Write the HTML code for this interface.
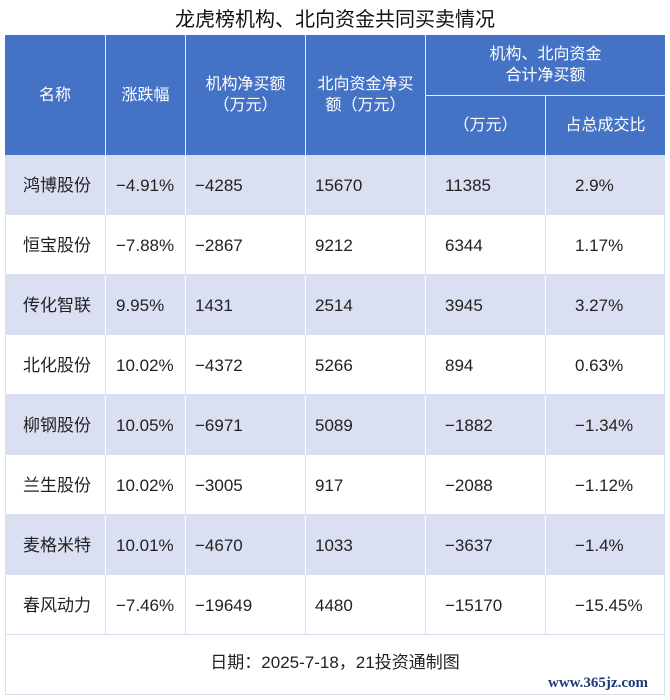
<!DOCTYPE html>
<html><head><meta charset="utf-8"><style>
body{margin:0;width:670px;height:700px;background:#fff;font-family:"Liberation Sans","Noto Sans CJK SC",sans-serif;position:relative;overflow:hidden;color:#222}
.a{position:absolute;box-sizing:border-box}
.t{position:absolute;font-size:17px;white-space:nowrap;line-height:20px}
.h{color:#fff;font-size:16px;text-align:center;line-height:21px;display:flex;align-items:center;justify-content:center}
</style></head><body>
<div class="a" style="left:0;top:6px;width:670px;text-align:center;font-size:20px;line-height:28px;color:#111">龙虎榜机构、北向资金共同买卖情况</div>
<div class="a" style="left:5px;top:35px;width:660px;height:120px;background:#4472c4"></div>
<div id="hdr"></div>
<div id="rows"></div>
<div class="a" style="left:5px;top:635px;width:660px;height:60px;border:1px solid #d9def0;border-top:none"></div>
<div class="a" style="left:5px;top:652px;width:660px;text-align:center;font-size:17px;line-height:22px">日期：2025-7-18，21投资通制图</div>
<div class="a" style="left:548px;top:675px;font-family:'Liberation Serif',serif;font-weight:bold;color:#1f3a7a;font-size:15px">www.365jz.com</div>
<script>
const names=["鸿博股份","恒宝股份","传化智联","北化股份","柳钢股份","兰生股份","麦格米特","春风动力"];
const changes=["−4.91%","−7.88%","9.95%","10.02%","10.05%","10.02%","10.01%","−7.46%"];
const inst=["−4285","−2867","1431","−4372","−6971","−3005","−4670","−19649"];
const north=["15670","9212","2514","5266","5089","917","1033","4480"];
const total=["11385","6344","3945","894","−1882","−2088","−3637","−15170"];
const share=["2.9%","1.17%","3.27%","0.63%","−1.34%","−1.12%","−1.4%","−15.45%"];
const xs=[5,105,185,305,425,545,665];
const tx=[null,116,195,315,445,575];
const hdr=document.getElementById('hdr');
function hcell(x,y,w,h,txt,name){const d=document.createElement('div');d.className='a h';


d.style.cssText+=`left:${x}px;top:${y}px;width:${w}px;height:${h}px;border-left:${x>5?'1px solid #e8ecf7':'none'}`;d.innerHTML=txt;hdr.appendChild(d);}
hcell(5,35,100,120,"名称","header-name");
hcell(105,35,80,120,"涨跌幅","header-change");
hcell(185,35,120,120,"机构净买额<br>（万元）","header-inst");
hcell(305,35,120,120,"北向资金净买<br>额（万元）","header-north");
hcell(425,35,240,60,"机构、北向资金<br>合计净买额","header-combined");
hcell(425,95,120,60,"（万元）","header-total");
hcell(545,95,120,60,"占总成交比","header-share");
const l=document.createElement('div');l.className='a';


l.style.cssText='left:425px;top:95px;width:240px;height:1px;background:#e8ecf7';hdr.appendChild(l);
const rows=document.getElementById('rows');
const cols=[names,changes,inst,north,total,share];
for(let i=0;i<names.length;i++){
 const y=155+i*60;
 const r=document.createElement('div');r.className='a';
 
 
 r.style.cssText=`left:5px;top:${y}px;width:660px;height:60px;background:${i%2==0?'#dadff2':'#fff'};border-left:1px solid #d9def0;border-right:1px solid #d9def0;border-bottom:1px solid #d9def0`;
 rows.appendChild(r);
 for(let c=1;c<6;c++){const v=document.createElement('div');v.className='a';
 
 
 v.style.cssText=`left:${xs[c]}px;top:${y}px;width:1px;height:60px;background:${i%2==0?'#fff':'#d9def0'}`;rows.appendChild(v);}
 for(let c=0;c<6;c++){const t=document.createElement('div');t.className='t';
 
 
 if(c==0){t.style.left='5px';t.style.width='104px';t.style.textAlign='center';}else t.style.left=tx[c]+'px';
 t.style.top=(y+21)+'px';t.textContent=cols[c][i];rows.appendChild(t);}
}
</script>
</body></html>
